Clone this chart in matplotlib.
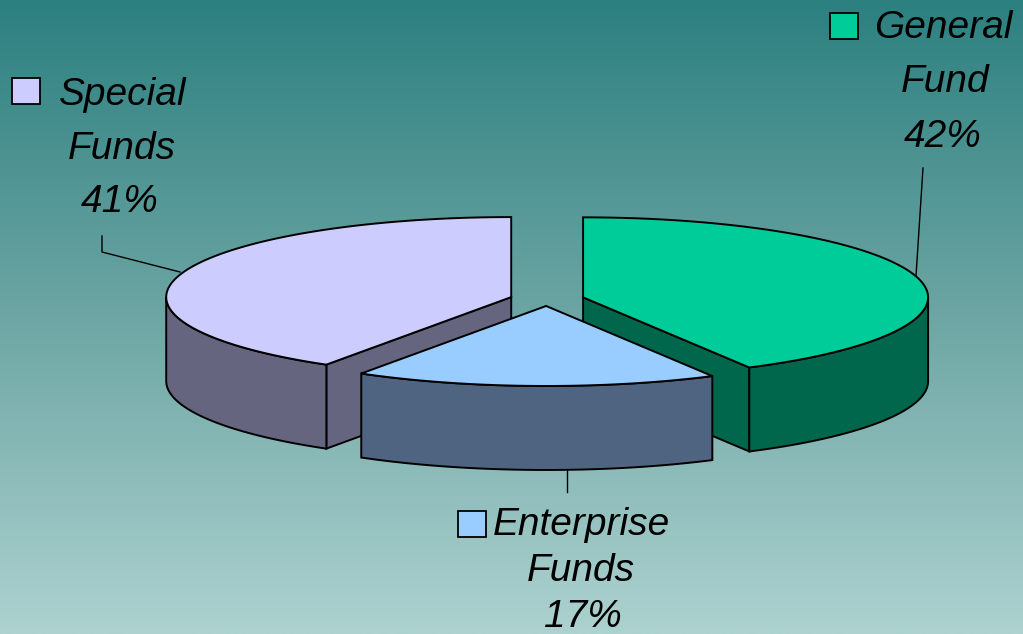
import numpy as np
import matplotlib
matplotlib.use("Agg")
import matplotlib.pyplot as plt
from matplotlib.patches import Polygon, Rectangle
from matplotlib.colors import LinearSegmentedColormap

# data
labels = ["General\nFund", "Enterprise\nFunds", "Special\nFunds"]
shares = [42, 17, 41]
top_colors = ["#00CC99", "#99CCFF", "#CCCCFF"]
side_colors = ["#00664C", "#4F6480", "#656580"]
explode = [0.108, 0.081, 0.108]

W, H = 1023, 634
fig = plt.figure(figsize=(W / 100, H / 100), dpi=100)
ax = fig.add_axes([0, 0, 1, 1])
ax.set_xlim(0, W)
ax.set_ylim(H, 0)
ax.axis("off")

# background gradient
bg = LinearSegmentedColormap.from_list("bg", ["#2C8080", "#6DA6A4", "#ADD2D0"])
grad = np.linspace(0, 1, 256).reshape(-1, 1)
ax.imshow(grad, cmap=bg, extent=[0, W, H, 0], aspect="auto", zorder=0)

# pie geometry (angles clockwise from 12 o'clock)
cx, cy = 547, 299.5
rx, ry = 345, 80
depth = 84
ec = "black"
lw = 1.4

fracs = np.array(shares) / sum(shares)
starts = np.concatenate([[0], np.cumsum(fracs)[:-1]]) * 2 * np.pi
ends = np.cumsum(fracs) * 2 * np.pi


def pt(ox, oy, t, dz=0):
    return (ox + rx * np.sin(t), oy - ry * np.cos(t) + dz)


def draw_slice(i, z):
    a, b = starts[i], ends[i]
    m = (a + b) / 2
    ox = cx + rx * explode[i] * np.sin(m)
    oy = cy - ry * explode[i] * np.cos(m)
    # radial faces turned towards the viewer
    for t, vis in ((a, np.cos(a - np.pi / 2) < 0), (b, np.cos(b + np.pi / 2) < 0)):
        if vis:
            p = pt(ox, oy, t)
            poly = [(ox, oy), p, (p[0], p[1] + depth), (ox, oy + depth)]
            ax.add_patch(Polygon(poly, closed=True, fc=side_colors[i], ec=ec, lw=lw, zorder=z))
    # outer curved side (front half only)
    lo, hi = max(a, np.pi / 2), min(b, 3 * np.pi / 2)
    if hi > lo:
        ts = np.linspace(lo, hi, 120)
        upper = [pt(ox, oy, t) for t in ts]
        lower = [pt(ox, oy, t, depth) for t in ts[::-1]]
        ax.add_patch(Polygon(upper + lower, closed=True, fc=side_colors[i], ec=ec, lw=lw, zorder=z + 0.1))
    # top face
    ts = np.linspace(a, b, 200)
    poly = [(ox, oy)] + [pt(ox, oy, t) for t in ts]
    ax.add_patch(Polygon(poly, closed=True, fc=top_colors[i], ec=ec, lw=lw, zorder=z + 0.2))


draw_slice(0, 2)
draw_slice(2, 2)
draw_slice(1, 4)

# leader lines
ax.plot([102, 102, 180], [236, 252, 272], color="black", lw=1.0, zorder=5)
ax.plot([923, 916], [168, 276], color="black", lw=1.0, zorder=5)
ax.plot([567, 567], [470, 492], color="black", lw=1.0, zorder=5)

# labels: (x of lines, baselines, legend square x, y)
font = dict(fontsize=28, style="italic", color="black", ha="center", va="baseline",
            family=["Liberation Sans", "DejaVu Sans"], zorder=6)
label_x = [(943, 945, 943), (581, 581, 583), (123, 122, 120)]
label_base = [(38, 92, 147), (535, 581, 627), (105, 159, 212)]
squares = [(830, 13), (458, 511), (12, 78)]
for i in range(3):
    first, second = labels[i].split("\n")
    for txt, x, y in zip((first, second, f"{shares[i]}%"), label_x[i], label_base[i]):
        ax.text(x, y, txt, **font)
    sx, sy = squares[i]
    ax.add_patch(Rectangle((sx, sy), 28, 26, fc=top_colors[i], ec="black", lw=1.3, zorder=6))

fig.savefig("out.png", dpi=100)
